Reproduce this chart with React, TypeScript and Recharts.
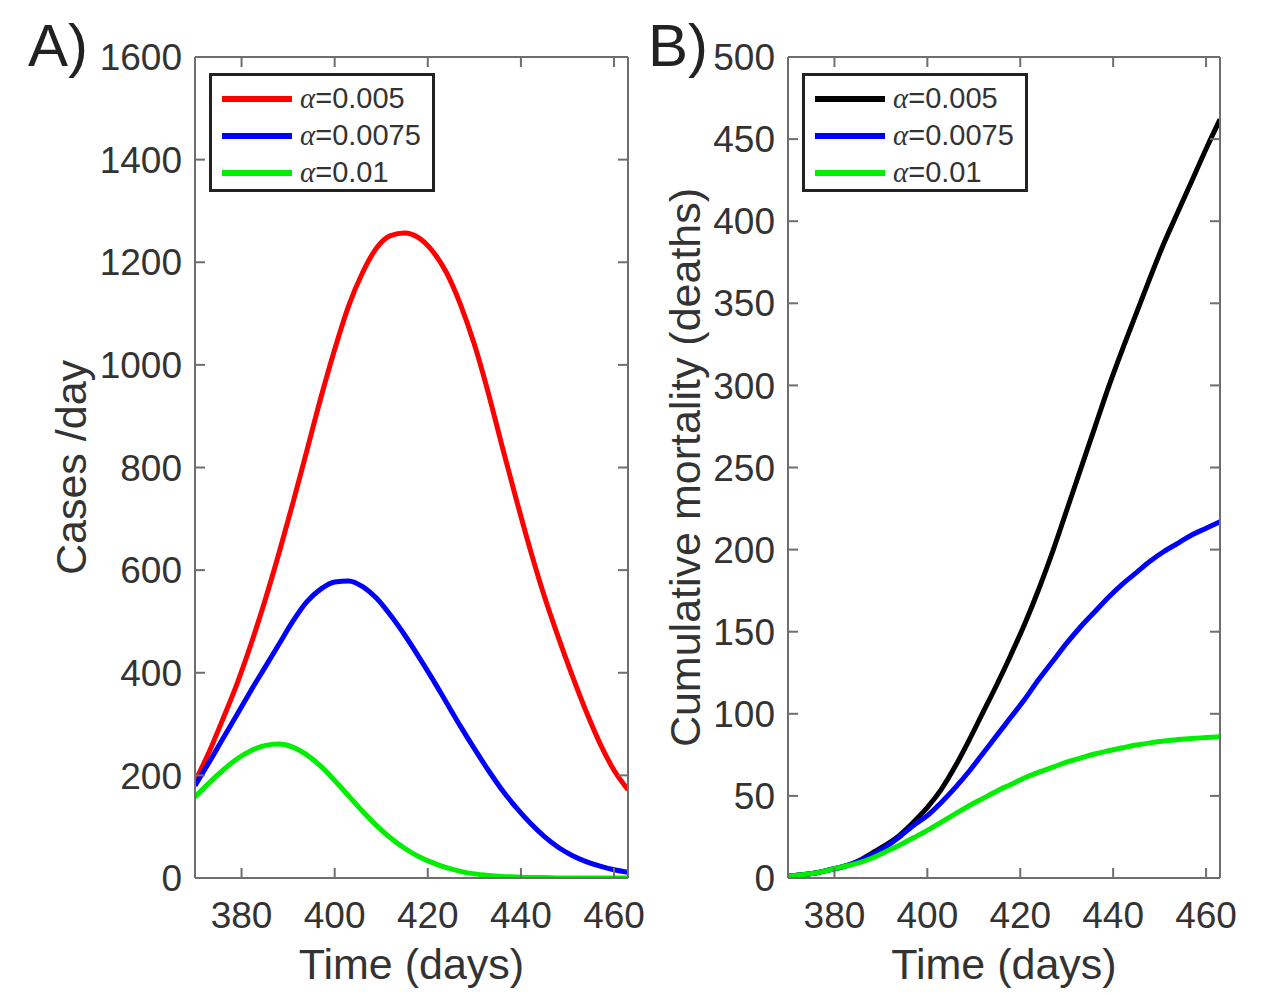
import React from 'react';
import { LineChart, Line, XAxis, YAxis, Legend } from 'recharts';

// time axis (days)
const days = [370, 373, 376, 379, 382, 385, 388, 391, 394, 397, 400, 403, 406, 409, 412, 415,
  418, 421, 424, 427, 430, 433, 436, 439, 442, 445, 448, 451, 454, 457, 460, 463];

// A) cases per day
const casesA005 = [188, 245, 310, 378, 455, 540, 632, 730, 832, 935, 1030, 1115, 1180, 1228, 1252, 1257,
  1248, 1222, 1180, 1118, 1040, 945, 840, 738, 640, 550, 470, 395, 325, 262, 210, 172];
const casesA0075 = [180, 225, 272, 318, 365, 410, 455, 500, 538, 563, 577, 579, 568, 545, 512, 474,
  432, 388, 342, 296, 252, 210, 171, 137, 107, 81, 60, 44, 32, 23, 16, 11];
const casesA01 = [158, 185, 210, 232, 248, 258, 261, 255, 240, 218, 190, 160, 130, 102, 78, 58,
  42, 30, 20, 13, 8, 5, 3, 2, 1, 1, 0, 0, 0, 0, 0, 0];

// B) cumulative deaths
const deathsA005 = [1, 2, 3, 5, 7, 10, 15, 20, 26, 34, 43, 54, 68, 84, 101, 118,
  136, 155, 176, 199, 224, 249, 274, 299, 322, 344, 366, 387, 406, 425, 444, 462];
const deathsA0075 = [1, 2, 3, 5, 7, 10, 14, 19, 25, 32, 38, 46, 55, 65, 76, 87,
  98, 109, 121, 132, 143, 153, 162, 171, 179, 186, 193, 199, 204, 209, 213, 217];
const deathsA01 = [1, 2, 3, 5, 7, 9, 12, 16, 20, 24.5, 29, 34, 39, 44, 48.5, 53,
  57, 61, 64.5, 67.5, 70.5, 73, 75.5, 77.5, 79.3, 81, 82.3, 83.4, 84.3, 85, 85.5, 86];

const xTicks = [380, 400, 420, 440, 460];
const casesTicks = [0, 200, 400, 600, 800, 1000, 1200, 1400, 1600];
const deathsTicks = [0, 50, 100, 150, 200, 250, 300, 350, 400, 450, 500];
const alphaLabels = ['=0.005', '=0.0075', '=0.01'];

const casesData = days.map((d, i) => ({ t: d, a: casesA005[i], b: casesA0075[i], c: casesA01[i] }));
const deathsData = days.map((d, i) => ({ t: d, a: deathsA005[i], b: deathsA0075[i], c: deathsA01[i] }));

const FONT = '"Liberation Sans", Arial, Helvetica, sans-serif';
const AXIS = '#6e6e6e';
const TEXT = '#333';

const noLabel = () => <g />;

const LegendBox = ({ payload }: any) => (
  <div style={{
    width: 226, height: 119, boxSizing: 'border-box', border: '3px solid #222',
    background: '#fff', paddingTop: 4, fontFamily: FONT,
  }}>
    {(payload || []).map((p: any) => (
      <div key={p.value} style={{ display: 'flex', alignItems: 'center', height: 37 }}>
        <span style={{ display: 'inline-block', width: 70, height: 6, background: p.color, marginLeft: 10 }} />
        <span style={{ marginLeft: 8, fontSize: 29, color: TEXT, lineHeight: 1 }}>
          <span style={{ fontFamily: '"Liberation Serif", "DejaVu Serif", serif', fontStyle: 'italic' }}>α</span>
          {p.value.slice(1)}
        </span>
      </div>
    ))}
  </div>
);

interface PanelProps {
  data: any[];
  left: number;
  yAxisWidth: number;
  rightMargin: number;
  yDomain: number[];
  yTicks: number[];
  yLabel: string;
  yLabelOffset: number;
  colors: string[];
  legendLeft: number;
}

const Panel: React.FC<PanelProps> = ({ data, left, yAxisWidth, rightMargin, yDomain, yTicks, yLabel, yLabelOffset, colors, legendLeft }) => (
  <div style={{ position: 'absolute', left, top: 0 }}>
    <LineChart width={700} height={995} data={data} margin={{ top: 57, right: rightMargin, bottom: 0, left: 0 }}>
      <XAxis
        dataKey="t" type="number" domain={[370, 463]} ticks={xTicks} interval={0} allowDataOverflow
        height={117} stroke={AXIS} strokeWidth={2} tickLine={false} tickSize={0} tickMargin={24}
        tick={{ fontSize: 37, fill: TEXT, fontFamily: FONT }}
        label={{ value: 'Time (days)', position: 'insideBottom', offset: 16, style: { fontSize: 43, fill: TEXT, fontFamily: FONT } }}
      />
      {/* inward tick marks on all four sides, matlab style */}
      <XAxis xAxisId="bt" dataKey="t" type="number" domain={[370, 463]} ticks={xTicks} interval={0} allowDataOverflow
        mirror height={1} axisLine={false} tick={noLabel} tickLine tickSize={10} stroke={AXIS} strokeWidth={2} />
      <XAxis xAxisId="top" orientation="top" dataKey="t" type="number" domain={[370, 463]} ticks={xTicks} interval={0} allowDataOverflow
        mirror height={1} tick={noLabel} tickLine tickSize={10} stroke={AXIS} strokeWidth={2} />
      <YAxis
        type="number" domain={yDomain} ticks={yTicks} interval={0} allowDataOverflow width={yAxisWidth}
        stroke={AXIS} strokeWidth={2} tickLine={false} tickSize={0} tickMargin={13}
        tick={{ fontSize: 37, fill: TEXT, fontFamily: FONT }}
        label={{ value: yLabel, angle: -90, position: 'insideLeft', offset: yLabelOffset, style: { textAnchor: 'middle', fontSize: 43, fill: TEXT, fontFamily: FONT } }}
      />
      <YAxis yAxisId="lt" type="number" domain={yDomain} ticks={yTicks} interval={0} allowDataOverflow
        mirror width={1} axisLine={false} tick={noLabel} tickLine tickSize={10} stroke={AXIS} strokeWidth={2} />
      <YAxis yAxisId="rt" orientation="right" type="number" domain={yDomain} ticks={yTicks} interval={0} allowDataOverflow
        mirror width={1} tick={noLabel} tickLine tickSize={10} stroke={AXIS} strokeWidth={2} />
      <Legend
        verticalAlign="middle" align="center" layout="horizontal"
        wrapperStyle={{ left: legendLeft, top: 73, width: 226, height: 119 }}
        content={<LegendBox />}
      />
      <Line type="monotone" dataKey="a" name={'α' + alphaLabels[0]} stroke={colors[0]} strokeWidth={5} dot={false} isAnimationActive={false} />
      <Line type="monotone" dataKey="b" name={'α' + alphaLabels[1]} stroke={colors[1]} strokeWidth={5} dot={false} isAnimationActive={false} />
      <Line type="monotone" dataKey="c" name={'α' + alphaLabels[2]} stroke={colors[2]} strokeWidth={5} dot={false} isAnimationActive={false} />
    </LineChart>
  </div>
);

const PanelTag = ({ text, left }: { text: string; left: number }) => (
  <div style={{ position: 'absolute', left, top: 16, fontSize: 60, lineHeight: '60px', fontFamily: FONT, color: '#222' }}>
    {text}
  </div>
);

export default function App() {
  return (
    <div style={{ position: 'absolute', left: 0, top: 0, width: 1280, height: 995, background: '#fff', overflow: 'hidden' }}>
      <Panel
        data={casesData} left={0} yAxisWidth={195} rightMargin={72}
        yDomain={[0, 1600]} yTicks={casesTicks} yLabel="Cases /day" yLabelOffset={71}
        colors={['#ff0000', '#0000ff', '#00ee00']} legendLeft={209}
      />
      <Panel
        data={deathsData} left={640} yAxisWidth={148} rightMargin={120}
        yDomain={[0, 500]} yTicks={deathsTicks} yLabel="Cumulative mortality (deaths)" yLabelOffset={45}
        colors={['#000000', '#0000ff', '#00ee00']} legendLeft={162}
      />
      <PanelTag text="A)" left={28} />
      <PanelTag text="B)" left={648} />
    </div>
  );
}
